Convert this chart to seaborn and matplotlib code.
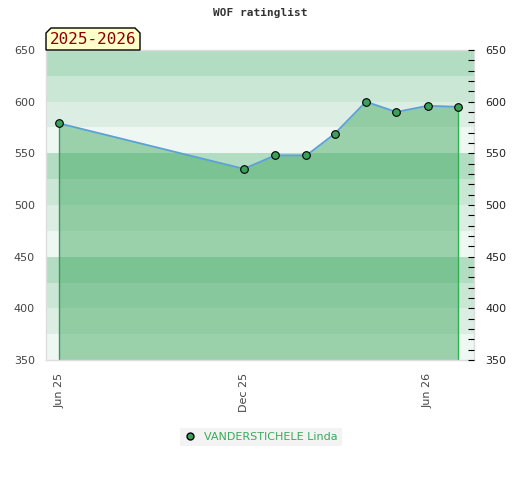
import pandas as pd
import numpy as np
import matplotlib
matplotlib.use("Agg")
import matplotlib.pyplot as plt
import matplotlib.dates as mdates
from matplotlib.patches import Polygon
import seaborn as sns

# ============================
# DATOS
# ============================
fechas = ["2025-06-01", "2025-12-01", "2026-01-01", "2026-02-01", "2026-03-01",
          "2026-04-01", "2026-05-01", "2026-06-01", "2026-07-01"]
rating = [579, 535, 548, 548, 569, 600, 590, 596, 595]
jugador = "VANDERSTICHELE Linda"
temporada = "2025-2026"
ticks_x = ["2025-06-01", "2025-12-01", "2026-06-01"]
etiquetas_x = ["Jun 25", "Dec 25", "Jun 26"]

df = pd.DataFrame({"fecha": pd.to_datetime(fechas), "rating": rating})

sns.set_style("white")
plt.rcParams["font.family"] = ["DejaVu Sans"]

W, H = 520, 480
fig = plt.figure(figsize=(W / 100, H / 100), dpi=100)
ax = fig.add_axes([46 / W, 1 - 360 / H, (474 - 46) / W, (360 - 50) / H])

# bandas de fondo
colores_banda = ["#eff7f2", "#dceee3", "#cae6d5", "#b3ddc3"]
for i, y0 in enumerate(range(350, 650, 25)):
    ax.axhspan(y0, y0 + 25, color=colores_banda[i % 4], lw=0, zorder=0)

# relleno bajo la curva
ax.fill_between(df["fecha"], df["rating"], 350, color="#3fa85f", alpha=0.48, lw=0, zorder=1)
ax.vlines(df["fecha"].iloc[0], 350, df["rating"].iloc[0], color="#3a9a5a", lw=1, zorder=2)
ax.vlines(df["fecha"].iloc[-1], 350, df["rating"].iloc[-1], color="#2fb050", lw=1, zorder=2)

sns.lineplot(data=df, x="fecha", y="rating", ax=ax, color="#5ca0d8", lw=1.3,
             marker="o", markersize=5.5, markerfacecolor="#3aa05a",
             markeredgecolor="black", markeredgewidth=0.8, zorder=3)

ax.set_xlim(pd.Timestamp("2025-05-19"), pd.Timestamp("2026-07-17"))
ax.set_ylim(350, 650)
ax.set_xlabel("")
ax.set_ylabel("")
ax.set_xticks(pd.to_datetime(ticks_x))
ax.set_xticklabels(etiquetas_x, rotation=90, fontsize=8, color="#444444")
ax.set_yticks(range(350, 651, 50))
ax.tick_params(axis="y", labelsize=8, labelcolor="#444444", length=0, pad=8)
ax.tick_params(axis="x", length=0, pad=9)
for s in ax.spines.values():
    s.set_color("#dddddd")
    s.set_linewidth(1)

# eje derecho
ax2 = ax.twinx()
ax2.set_ylim(350, 650)
ax2.set_yticks(range(350, 651, 50))
ax2.set_yticks(range(350, 651, 10), minor=True)
ax2.tick_params(axis="y", which="both", direction="in", length=4, width=0.8,
                color="black", labelsize=8, labelcolor="#222222", pad=8)
for s in ax2.spines.values():
    s.set_visible(False)

# titulo
fig.text(0.5, 1 - 13 / H, "WOF ratinglist", ha="center", va="center",
         fontsize=8, fontweight="bold", family="DejaVu Sans Mono", color="#333333")

# etiqueta temporada
x0, x1, yt, yb, c = 46, 140, 28, 50, 5
pts = [(x0, yb), (x0, yt + c), (x0 + c, yt), (x1 - c, yt), (x1, yt + c), (x1, yb)]
pts = [(px / W, 1 - py / H) for px, py in pts]
fig.patches.append(Polygon(pts, closed=True, transform=fig.transFigure,
                           facecolor="#ffffcc", edgecolor="black", lw=1, zorder=5))
fig.text((x0 + x1) / 2 / W, 1 - 40 / H, temporada, ha="center", va="center",
         fontsize=11.5, family="DejaVu Sans Mono", color="#8b0000", zorder=6)

# leyenda
leg = ax.legend(handles=[plt.Line2D([], [], ls="none", marker="o", markersize=5,
                                    markerfacecolor="#3aa05a", markeredgecolor="black")],
                labels=[jugador], loc="center", bbox_to_anchor=(261 / W, 1 - 437 / H),
                bbox_transform=fig.transFigure, frameon=True, fontsize=8,
                handlelength=1, handletextpad=0.8, borderpad=0.4, fancybox=False)
leg.get_frame().set_facecolor("#f0f0f0")
leg.get_frame().set_edgecolor("none")
for t in leg.get_texts():
    t.set_color("#3aaa5a")

fig.savefig("out.png", dpi=100)
